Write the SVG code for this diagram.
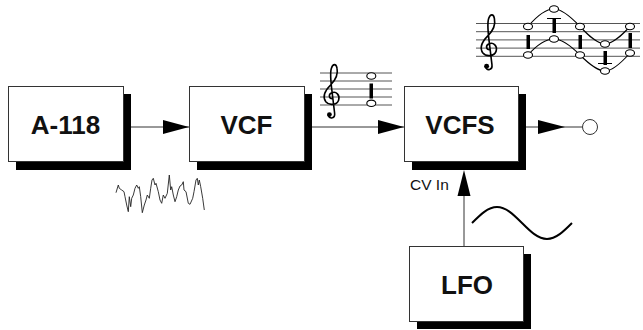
<svg xmlns="http://www.w3.org/2000/svg" width="643" height="330" viewBox="0 0 643 330">
<style>
.box{fill:#fff;stroke:#333;stroke-width:1}
.sh{fill:#000}
.lbl{font-family:"Liberation Sans",Arial,sans-serif;font-weight:bold;font-size:26px;text-anchor:middle;fill:#111}
.ln{stroke:#333;stroke-width:1;fill:none}
.ah{fill:#000}
.staff{stroke:#555;stroke-width:1}
.note{fill:#fff;stroke:#000;stroke-width:1.1}
.bar{fill:#000}
.curve{fill:none;stroke:#000;stroke-width:1.1}
.clef{fill:none;stroke:#000;stroke-width:2;stroke-linecap:round;stroke-linejoin:round}
</style>
<defs>
<g id="clef">
<path class="clef" d="M14,32 C10,32 9,27 13,25 C19,22 24,28 22,34 C20,40 10,41 6,36 C1,29 6,21 12,15 C18,9 22,3 20,-6 C19,-12 15,-12 13,-6 C11,0 12,10 14,25 L17,50 C18,57 11,58 9,53"/>
<circle cx="10.5" cy="52" r="3" fill="#000"/>
</g>
</defs>
<rect width="643" height="330" fill="#fff"/>

<g id="connectors">
<line class="ln" x1="123" y1="127" x2="189" y2="127"/>
<polygon class="ah" points="163,120 189,127 163,134"/>
<line class="ln" x1="312" y1="127" x2="404" y2="127"/>
<polygon class="ah" points="378,120 404,127 378,134"/>
<line class="ln" x1="526" y1="127" x2="582.5" y2="127"/>
<polygon class="ah" points="538,120 565,127 538,134"/>
<line class="ln" x1="464" y1="246" x2="464" y2="190"/>
<polygon class="ah" points="457.5,196 464,170 470.5,196"/>
</g>

<g id="node-a118">
<rect class="sh" x="16" y="94" width="115" height="76"/>
<rect class="box" x="8.5" y="86.5" width="115" height="75"/>
<text class="lbl" x="65.5" y="134">A-118</text>
</g>
<g id="node-vcf">
<rect class="sh" x="197" y="94" width="115" height="76"/>
<rect class="box" x="189.5" y="86.5" width="115" height="75"/>
<text class="lbl" x="246.5" y="134">VCF</text>
</g>
<g id="node-vcfs">
<rect class="sh" x="412" y="94" width="114" height="76"/>
<rect class="box" x="404.5" y="86.5" width="114" height="75"/>
<text class="lbl" x="460" y="134">VCFS</text>
</g>
<g id="node-lfo">
<rect class="sh" x="417" y="254" width="114" height="75"/>
<rect class="box" x="409.5" y="246.5" width="114" height="75"/>
<text class="lbl" x="467" y="294">LFO</text>
</g>
<g id="node-out">
<circle cx="590" cy="127" r="7.5" fill="#fff" stroke="#333" stroke-width="1"/>
</g>

<text x="410" y="190" font-family="Liberation Sans, Arial, sans-serif" font-size="15.5" fill="#111">CV In</text>

<g id="noise">
<polyline fill="none" stroke="#222" stroke-width="0.9" stroke-linejoin="round" points="116,192.7 118.3,185 119.3,188.3 121.7,190 124,191.7 125,196.7 126.7,205 128.3,211.7 129.3,196.7 130.7,206.7 131.7,198.3 133.3,195 135,188.3 136.7,185 138.3,188.3 139.3,186.7 140.7,196.7 142.3,212.7 144.3,205 146,200 147.3,195 149.3,198.3 150.7,188.3 152,180 153.3,178.3 155,185 156,183.3 158.3,191.7 160,200 161.7,203.3 163.3,195 165,198.3 167.3,193.3 169.3,175 170.7,190 171.7,186.7 173.3,195 175,201.7 176.7,196.7 178.3,190 180,186 181.7,185 183.3,181.7 184,190 186,191.7 188.3,203.3 190,204.3 192.7,198.3 194,191.7 196,180 197.3,178.3 198.3,185 199.3,180 200.7,186.7 202.7,198.3 204.3,210"/>
</g>

<g id="sine">
<path fill="none" stroke="#000" stroke-width="2" d="M472,223 C480.2,214.8 487.9,207 497,207 C506.1,207 513.8,214.8 522,223 C530.2,231.2 537.9,239 547,239 C556.1,239 563.8,231.2 572,223"/>
</g>

<g id="staff-small">
<line class="staff" x1="320" y1="73" x2="392" y2="73"/>
<line class="staff" x1="320" y1="81" x2="392" y2="81"/>
<line class="staff" x1="320" y1="89" x2="392" y2="89"/>
<line class="staff" x1="320" y1="97" x2="392" y2="97"/>
<line class="staff" x1="320" y1="105" x2="392" y2="105"/>
<use href="#clef" transform="translate(321,73) scale(0.8)"/>
<rect class="bar" x="369.5" y="83.5" width="3.5" height="15"/>
<ellipse class="note" cx="371.3" cy="76" rx="4.5" ry="3.2"/>
<ellipse class="note" cx="371.3" cy="103.3" rx="4.5" ry="3.2"/>
</g>

<g id="staff-large">
<line class="staff" x1="476" y1="23.5" x2="640" y2="23.5"/>
<line class="staff" x1="476" y1="31.7" x2="640" y2="31.7"/>
<line class="staff" x1="476" y1="39.9" x2="640" y2="39.9"/>
<line class="staff" x1="476" y1="48.1" x2="640" y2="48.1"/>
<line class="staff" x1="476" y1="56.3" x2="640" y2="56.3"/>
<use href="#clef" transform="translate(478,23.5) scale(0.82)"/>
<path class="curve" d="M528,26.5 C536,17 546,9 554,9 C562,9 572,18 580,26.5 C588,35 597,44 605,44 C613,44 622,35 630,26.5"/>
<path class="curve" d="M528,55 C536,46 546,39 554,39 C562,39 572,47 580,55 C588,63 597,71 605,71 C613,71 622,62 630,53"/>
<rect class="bar" x="526.5" y="35" width="3.5" height="14"/>
<rect class="bar" x="552.5" y="18" width="3.5" height="15"/>
<line stroke="#000" stroke-width="1" x1="547" y1="18.5" x2="561" y2="18.5"/>
<rect class="bar" x="578.5" y="35" width="3.5" height="14"/>
<rect class="bar" x="603.5" y="51" width="3.5" height="14"/>
<line stroke="#000" stroke-width="1" x1="598" y1="63.5" x2="612" y2="63.5"/>
<rect class="bar" x="628.5" y="33" width="3.5" height="15"/>
<ellipse class="note" cx="528" cy="26.5" rx="4.5" ry="3.2"/>
<ellipse class="note" cx="554" cy="9" rx="4.5" ry="3.2"/>
<ellipse class="note" cx="580" cy="26.5" rx="4.5" ry="3.2"/>
<ellipse class="note" cx="605" cy="44" rx="4.5" ry="3.2"/>
<ellipse class="note" cx="630" cy="26.5" rx="4.5" ry="3.2"/>
<ellipse class="note" cx="528" cy="55" rx="4.5" ry="3.2"/>
<ellipse class="note" cx="554" cy="39" rx="4.5" ry="3.2"/>
<ellipse class="note" cx="580" cy="55" rx="4.5" ry="3.2"/>
<ellipse class="note" cx="605" cy="71" rx="4.5" ry="3.2"/>
<ellipse class="note" cx="630" cy="53" rx="4.5" ry="3.2"/>
</g>
</svg>
